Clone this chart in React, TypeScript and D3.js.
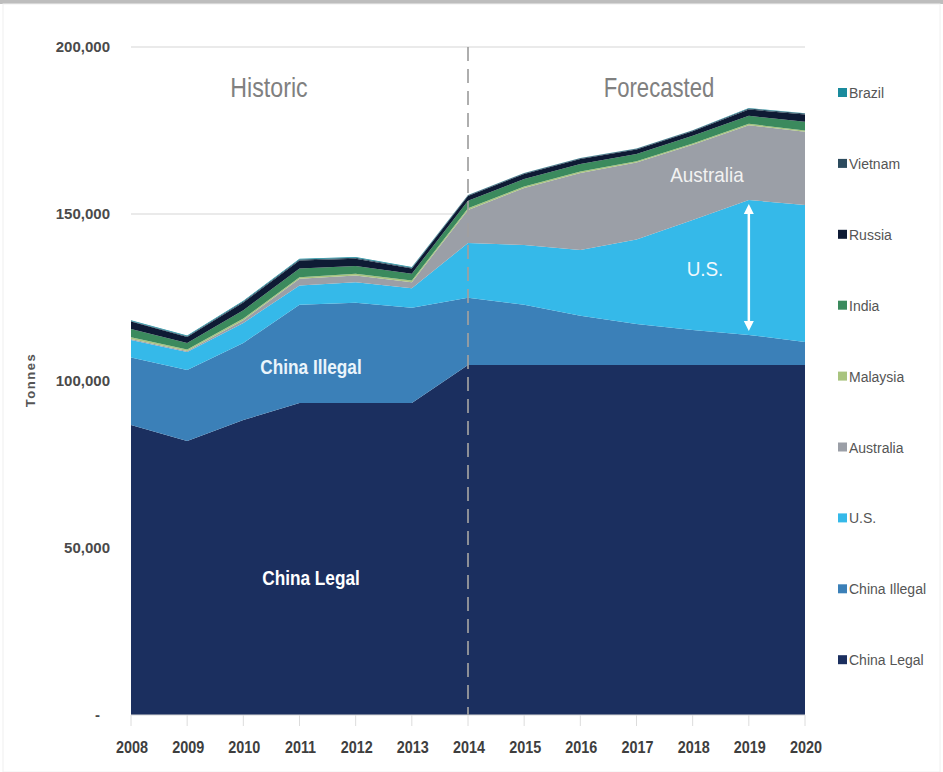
import React from 'react';
import * as d3 from 'd3';

// values in thousand tonnes
const years = [2008, 2009, 2010, 2011, 2012, 2013, 2014, 2015, 2016, 2017, 2018, 2019, 2020];
const chinaLegal = [86.8, 82.0, 88.3, 93.4, 93.4, 93.4, 104.8, 104.8, 104.8, 104.8, 104.8, 104.8, 104.8];
const chinaIllegal = [20.2, 21.3, 23.1, 29.4, 30.0, 28.5, 20.1, 18.0, 14.7, 12.3, 10.5, 9.0, 6.9];
const us = [5.3, 5.4, 6.0, 5.8, 6.2, 5.9, 16.4, 17.9, 19.7, 25.3, 32.9, 40.4, 41.0];
const australia = [0.3, 0.3, 0.8, 2.0, 2.0, 1.8, 9.9, 17.1, 23.1, 23.0, 22.5, 22.4, 21.9];
const malaysia = [0.5, 0.4, 0.5, 0.5, 0.5, 0.5, 0.5, 0.4, 0.4, 0.4, 0.4, 0.4, 0.4];
const india = [2.5, 2.0, 2.5, 2.6, 2.3, 2.0, 2.3, 2.3, 2.3, 2.2, 2.3, 2.4, 2.6];
const russia = [2.2, 1.8, 2.3, 2.4, 2.2, 1.6, 1.4, 1.5, 1.5, 1.3, 1.4, 1.9, 2.2];
const vietnam = [0.2, 0.2, 0.3, 0.3, 0.3, 0.2, 0.2, 0.2, 0.2, 0.2, 0.2, 0.3, 0.3];
const brazil = [0.2, 0.2, 0.2, 0.2, 0.2, 0.2, 0.1, 0.1, 0.1, 0.1, 0.1, 0.1, 0.1];

const seriesNames = ['China Legal', 'China Illegal', 'U.S.', 'Australia', 'Malaysia', 'India', 'Russia', 'Vietnam', 'Brazil'];
const seriesValues = [chinaLegal, chinaIllegal, us, australia, malaysia, india, russia, vietnam, brazil];
const seriesColors = ['#1b2f5f', '#3b80b8', '#35b9e9', '#9b9fa7', '#a9c47f', '#3b8a5d', '#0e1a34', '#2c4b5e', '#1a8b9d'];

const yTicks = [0, 50000, 100000, 150000, 200000];
const legendOrder = ['Brazil', 'Vietnam', 'Russia', 'India', 'Malaysia', 'Australia', 'U.S.', 'China Illegal', 'China Legal'];

const W = 943;
const H = 772;
const font = '"Liberation Sans", Arial, sans-serif';

// narrow text: the original uses a condensed humanist face
function Narrow({ x, y, sx = 0.85, children, ...rest }: any) {
  return (
    <text transform={`translate(${x},${y}) scale(${sx},1)`} fontFamily={font} textAnchor="middle" {...rest}>
      {children}
    </text>
  );
}

export default function App() {
  const x = d3.scaleLinear().domain([2008, 2020]).range([131, 805]);
  const y = d3.scaleLinear().domain([0, 200000]).range([715, 47]);

  const table = years.map((yr, i) => {
    const row: any = { year: yr };
    seriesNames.forEach((n, s) => { row[n] = seriesValues[s][i] * 1000; });
    return row;
  });
  const stacked = d3.stack().keys(seriesNames)(table);

  const area = d3.area<any>()
    .x(d => x(d.data.year))
    .y0(d => y(d[0]))
    .y1(d => y(d[1]));

  const fmt = d3.format(',.0f');
  const colorOf = (n: string) => seriesColors[seriesNames.indexOf(n)];

  // arrow spanning the U.S. band in 2019
  const i2019 = years.indexOf(2019);
  const usBand = stacked[2][i2019];
  const ax = x(2019);
  const aTop = y(usBand[1]) + 4;
  const aBot = y(usBand[0]) - 4;

  return (
    <svg width={W} height={H} style={{ position: 'absolute', left: 0, top: 0, background: '#fff' }}>
      <rect x={0} y={0} width={W} height={4} fill="#bdbdbd" />
      <rect x={3} y={4} width={W - 6} height={H - 4} fill="none" stroke="#f0f0f0" />

      {/* gridlines */}
      {yTicks.filter(t => t > 0).map(t => (
        <line key={t} x1={131} x2={805} y1={y(t)} y2={y(t)} stroke="#e3e3e3" strokeWidth={1.5} />
      ))}

      {/* areas */}
      {stacked.map(s => (
        <path key={s.key} d={area(s as any) || ''} fill={colorOf(s.key)} />
      ))}

      {/* x axis ticks */}
      <line x1={131} x2={805} y1={715} y2={715} stroke="#d8d8d8" />
      {years.map(yr => (
        <g key={yr}>
          <line x1={x(yr)} x2={x(yr)} y1={715} y2={726} stroke="#dcdcdc" />
          <Narrow x={x(yr) + 1} y={753} sx={0.9} fontWeight="bold" fontSize={16} fill="#3e3e3e">{yr}</Narrow>
        </g>
      ))}

      {/* y axis labels */}
      {yTicks.map(t => (
        <text key={t} x={t === 0 ? 100 : 110} y={y(t) + 5} textAnchor="end" fontFamily={font} fontWeight="bold" fontSize={15} fill="#4a4a4a">
          {t === 0 ? '-' : fmt(t)}
        </text>
      ))}
      <text transform={`translate(35,380) rotate(-90)`} textAnchor="middle" fontFamily={font} fontWeight="bold" fontSize={13} letterSpacing={1.5} fill="#555">Tonnes</text>

      {/* historic / forecast divider */}
      <line x1={x(2014)} x2={x(2014)} y1={47} y2={715} stroke="#a0a0a0" strokeWidth={2} strokeDasharray="14 8" opacity={0.85} />
      <Narrow x={269} y={97} sx={0.86} fontSize={27} fill="#808080">Historic</Narrow>
      <Narrow x={659} y={97} sx={0.82} fontSize={27} fill="#808080">Forecasted</Narrow>

      {/* in-chart labels */}
      <Narrow x={311} y={585} sx={0.82} fontWeight="bold" fontSize={21} fill="#fff">China Legal</Narrow>
      <Narrow x={311} y={374} sx={0.82} fontWeight="bold" fontSize={21} fill="#eaf4fb">China Illegal</Narrow>
      <Narrow x={707} y={182} sx={0.9} fontSize={21} fill="#f2f2f2">Australia</Narrow>
      <Narrow x={705} y={276} sx={0.9} fontSize={21} fill="#f2f8fc">U.S.</Narrow>

      {/* double arrow */}
      <line x1={ax} x2={ax} y1={aTop + 6} y2={aBot - 6} stroke="#fff" strokeWidth={2.5} />
      <path d={`M${ax - 5},${aTop + 10} L${ax},${aTop} L${ax + 5},${aTop + 10} Z`} fill="#fff" />
      <path d={`M${ax - 5},${aBot - 10} L${ax},${aBot} L${ax + 5},${aBot - 10} Z`} fill="#fff" />

      {/* legend */}
      {legendOrder.map((n, i) => {
        const ly = 93 + i * 70.9;
        return (
          <g key={n}>
            <rect x={838} y={ly - 5} width={9} height={9} fill={colorOf(n)} />
            <text x={849} y={ly + 5} fontFamily={font} fontSize={14} fill="#555">{n}</text>
          </g>
        );
      })}
    </svg>
  );
}
